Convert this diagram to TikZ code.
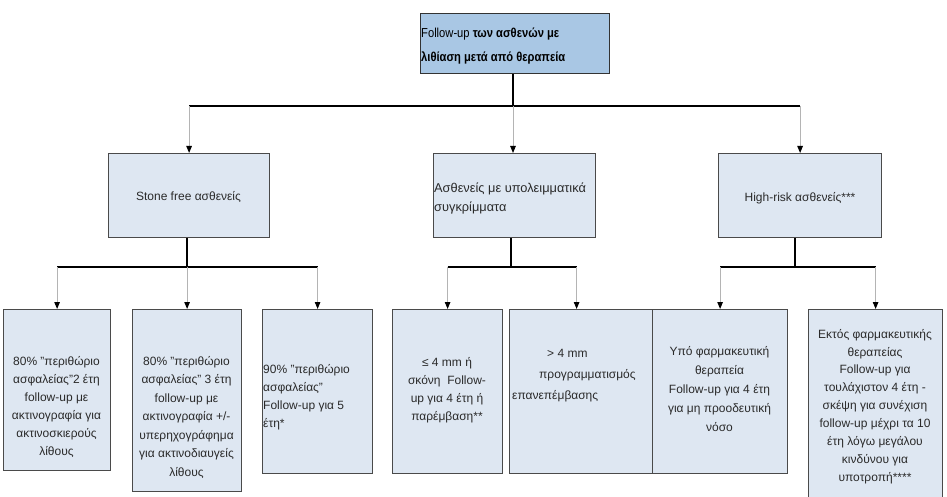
\documentclass[tikz,border=0pt]{standalone}
\usepackage{fontspec}
\setmainfont{Liberation Sans}
\newfontfamily\narrowfont[FakeStretch=0.86]{Liberation Sans}
\usetikzlibrary{arrows.meta,calc}
\definecolor{headfill}{HTML}{A9C7E4}
\definecolor{boxfill}{HTML}{DEE7F2}
\definecolor{edge}{HTML}{4A4A4A}
\definecolor{dropgray}{HTML}{B4B4B4}
\definecolor{ink}{HTML}{2A2A2A}
\tikzset{
  box/.style={draw=edge, fill=boxfill, line width=1.2pt, inner sep=0pt, anchor=north west},
  headbox/.style={box, fill=headfill, draw=black!80},
  txt/.style={font=\fontsize{12}{18}\selectfont, text=ink, align=center, inner sep=0pt},
  ltxt/.style={txt, align=left, anchor=west},
  trunk/.style={draw=black, line width=1.1pt},
  drop/.style={draw=dropgray, line width=1pt,
    -{Triangle[width=5.5pt,length=7pt,color=black,fill=black]}},
}
\begin{document}
\begin{tikzpicture}[x=1pt,y=-1pt]
\useasboundingbox (0,0) rectangle (947,497);

% header
\node[headbox, minimum width=189pt, minimum height=60pt] (top) at (420,13) {};
\node[anchor=west, inner sep=0pt, align=left, text=black,
      font=\narrowfont\fontsize{13}{24}\selectfont] (toptxt) at (421,46)
  {Follow-up \textbf{των ασθενών με}\\\textbf{λιθίαση μετά από θεραπεία}};

% second level
\node[box, minimum width=161pt, minimum height=84pt] (sf) at (108,153) {};
\node[box, minimum width=162pt, minimum height=84pt] (mr) at (433,153) {};
\node[box, minimum width=163pt, minimum height=84pt] (hr) at (718,153) {};
\node[txt] (sftxt) at (188.5,197) {Stone free ασθενείς};
\node[ltxt, font=\fontsize{12.8}{19}\selectfont] (mrtxt) at (434,198.5)
  {Ασθενείς με υπολειμματικά\\συγκρίμματα};
\node[txt] (hrtxt) at (800,198) {High-risk ασθενείς***};

% third level
\node[box, minimum width=107pt, minimum height=161pt] (b1) at (3,309) {};
\node[box, minimum width=109pt, minimum height=182pt] (b2) at (132,309) {};
\node[box, minimum width=110pt, minimum height=164pt] (b3) at (262,309) {};
\node[box, minimum width=110pt, minimum height=164pt] (b4) at (392,309) {};
\node[box, minimum width=143pt, minimum height=164pt] (b5) at (509,309) {};
\node[box, minimum width=135pt, minimum height=164pt] (b6) at (652,309) {};
\node[box, minimum width=134pt, minimum height=190pt] (b7) at (808,309) {};

\node[txt] (b1txt) at (56.5,407)
  {80\% "περιθώριο\\ασφαλείας"2 έτη\\follow-up με\\ακτινογραφία για\\ακτινοσκιερούς\\λίθους};
\node[txt, font=\fontsize{12}{18.5}\selectfont] (b2txt) at (186.5,417.5)
  {80\% "περιθώριο\\ασφαλείας" 3 έτη\\follow-up με\\ακτινογραφία +/-\\υπερηχογράφημα\\για ακτινοδιαυγείς\\λίθους};
\node[ltxt] (b3txt) at (263,397.5)
  {90\% "περιθώριο\\ασφαλείας"\\Follow-up για 5\\έτη*};
\node[txt] (b4txt) at (447,390.5)
  {≤ 4 mm ή\\σκόνη \ Follow-\\up για 4 έτη ή\\παρέμβαση**};
\node[ltxt, font=\fontsize{12}{21}\selectfont] (b5txt) at (512,376)
  {\hspace*{35pt}> 4 mm\\\hspace*{27pt}προγραμματισμός\\επανεπέμβασης};
\node[txt, font=\fontsize{12}{19}\selectfont] (b6txt) at (719.5,389.5)
  {Υπό φαρμακευτική\\θεραπεία\\Follow-up για 4 έτη\\για μη προοδευτική\\νόσο};
\node[txt, font=\fontsize{12}{17.9}\selectfont] (b7txt) at (875,406.5)
  {Εκτός φαρμακευτικής\\θεραπείας\\Follow-up για\\τουλάχιστον 4 έτη -\\σκέψη για συνέχιση\\follow-up μέχρι τα 10\\έτη λόγω μεγάλου\\κινδύνου για\\υποτροπή****};

% junction points of the connectors
\coordinate (j0) at (513,106);
\coordinate (j1) at (187,267);
\coordinate (j2) at (511,267);
\coordinate (j3) at (795,267);

% header to second level
\draw[trunk] (top.south -| j0) -- (j0);
\draw[trunk] (sf.north |- j0) -- (hr.north |- j0);
\draw[drop] (sf.north |- j0) -- (sf.north);
\draw[drop] (j0) -- (j0 |- mr.north);
\draw[drop] (hr.north |- j0) -- (hr.north);

% stone free branch
\draw[trunk] (sf.south -| j1) -- (j1);
\draw[trunk] (b1.north |- j1) -- (b3.north |- j1);
\draw[drop] (b1.north |- j1) -- (b1.north);
\draw[drop] (b2.north |- j1) -- (b2.north);
\draw[drop] (b3.north |- j1) -- (b3.north);

% residual fragments branch
\coordinate (a5) at ([xshift=-4.5pt]b5.north);
\draw[trunk] (mr.south -| j2) -- (j2);
\draw[trunk] (b4.north |- j2) -- (a5 |- j2);
\draw[drop] (b4.north |- j2) -- (b4.north);
\draw[drop] (a5 |- j2) -- (a5);

% high-risk branch
\draw[trunk] (hr.south -| j3) -- (j3);
\draw[trunk] (b6.north |- j3) -- (b7.north |- j3);
\draw[drop] (b6.north |- j3) -- (b6.north);
\draw[drop] (b7.north |- j3) -- (b7.north);
\end{tikzpicture}
\end{document}
